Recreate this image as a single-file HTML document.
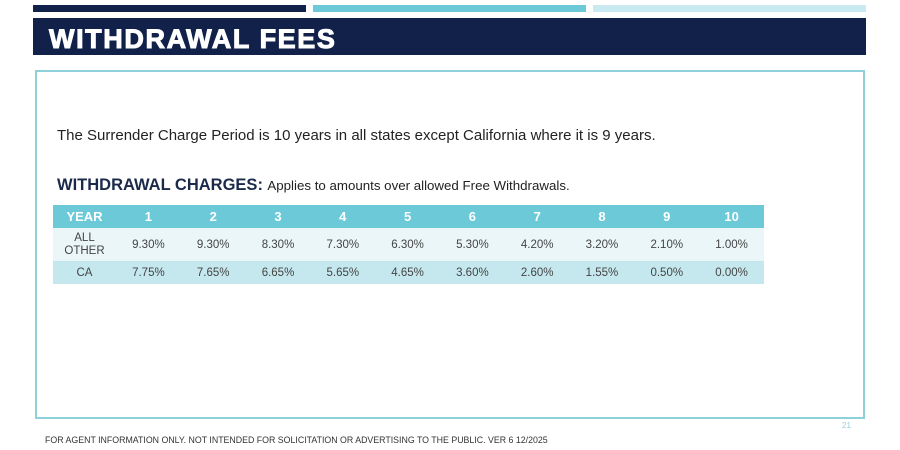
<!DOCTYPE html>
<html><head><style>
body{margin:0;width:900px;height:450px;background:#fff;position:relative;font-family:"Liberation Sans",Arial,sans-serif;overflow:hidden}
.a{position:absolute}
table{border-collapse:collapse;position:absolute;left:53px;top:205px;width:711px;table-layout:fixed}
td{text-align:center;font-size:11.5px;color:#444;padding:0}
tr.h td{background:#6cc9d8;color:#fff;font-weight:bold;font-size:13px;height:23px}
tr.r1 td{background:#eaf6f8;height:33px;border-bottom:1px solid #bfe6ec}
tr.r2 td{background:#c5e8ee;height:22px}
</style></head><body>
<div class="a" style="left:33px;top:5px;width:273px;height:7px;background:#11214a"></div>
<div class="a" style="left:313px;top:5px;width:273px;height:7px;background:#6cc9d8"></div>
<div class="a" style="left:593px;top:5px;width:273px;height:7px;background:#c9eaf0"></div>
<div class="a" style="left:33px;top:18px;width:833px;height:37px;background:#11214a"></div>
<div class="a" style="left:49px;top:22px;color:#fff;font-weight:bold;font-size:27px;line-height:34px;letter-spacing:1.6px;-webkit-text-stroke:1px #fff">WITHDRAWAL FEES</div>
<div class="a" style="left:35px;top:70px;width:826px;height:345px;border:2px solid #8fd1da"></div>
<div class="a" style="left:57px;top:127px;font-size:15px;color:#222">The Surrender Charge Period is 10 years in all states except California where it is 9 years.</div>
<div class="a" style="left:57px;top:176px;color:#1a2a4a"><b style="font-size:16.5px">WITHDRAWAL CHARGES:</b> <span style="font-size:13.3px;color:#222">Applies to amounts over allowed Free Withdrawals.</span></div>
<table>
<colgroup><col style="width:63px"><col span="10"></colgroup>
<tr class="h"><td>YEAR</td><td>1</td><td>2</td><td>3</td><td>4</td><td>5</td><td>6</td><td>7</td><td>8</td><td>9</td><td>10</td></tr>
<tr class="r1"><td style="line-height:13px">ALL<br>OTHER</td><td>9.30%</td><td>9.30%</td><td>8.30%</td><td>7.30%</td><td>6.30%</td><td>5.30%</td><td>4.20%</td><td>3.20%</td><td>2.10%</td><td>1.00%</td></tr>
<tr class="r2"><td>CA</td><td>7.75%</td><td>7.65%</td><td>6.65%</td><td>5.65%</td><td>4.65%</td><td>3.60%</td><td>2.60%</td><td>1.55%</td><td>0.50%</td><td>0.00%</td></tr>
</table>
<div class="a" style="left:842px;top:421px;font-size:8px;color:#8fd1da">21</div>
<div class="a" style="left:45px;top:435px;font-size:8.8px;color:#333">FOR AGENT INFORMATION ONLY. NOT INTENDED FOR SOLICITATION OR ADVERTISING TO THE PUBLIC. VER 6 12/2025</div>
</body></html>
